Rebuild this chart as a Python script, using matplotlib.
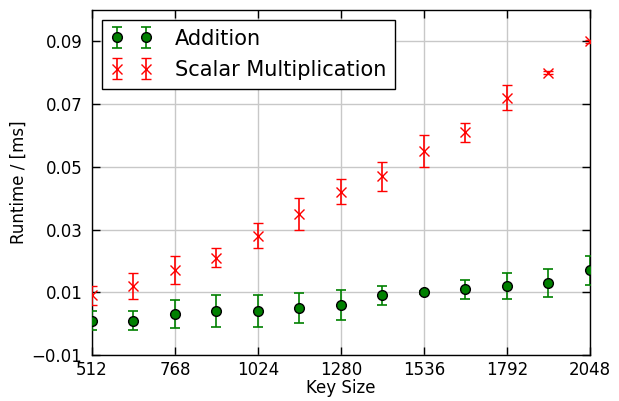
import matplotlib
matplotlib.use("Agg")
import matplotlib.pyplot as plt

# key sizes in bits
key_sizes = [512, 640, 768, 896, 1024, 1152, 1280, 1408, 1536, 1664, 1792, 1920, 2048]

# runtime in ms, mean and std
add_mean = [0.001, 0.001, 0.003, 0.004, 0.004, 0.005, 0.006, 0.009, 0.010, 0.011, 0.012, 0.013, 0.017]
add_err = [0.003, 0.003, 0.0045, 0.005, 0.005, 0.0048, 0.0048, 0.003, 0.0004, 0.003, 0.004, 0.0045, 0.0047]

mul_mean = [0.009, 0.012, 0.017, 0.021, 0.028, 0.035, 0.042, 0.047, 0.055, 0.061, 0.072, 0.080, 0.090]
mul_err = [0.003, 0.004, 0.0045, 0.003, 0.004, 0.005, 0.004, 0.0046, 0.005, 0.003, 0.004, 0.0004, 0.0004]

x_ticks = [512, 768, 1024, 1280, 1536, 1792, 2048]
y_ticks = [-0.01, 0.01, 0.03, 0.05, 0.07, 0.09]

fig = plt.figure(figsize=(6.19, 4.01), dpi=100)
ax = fig.add_axes([0.1486, 0.1147, 0.8045, 0.8604])

# Grid behind the data
ax.grid(True, color='#c8c8c8', linestyle='-', linewidth=1.0)
ax.set_axisbelow(True)

_ = ax.errorbar(key_sizes, add_mean, yerr=add_err, fmt='o', color='g',
                ecolor='g', mfc='g', mec='k', ms=7, capsize=3.5,
                elinewidth=1.2, capthick=1.2, label='Addition', zorder=3)
_ = ax.errorbar(key_sizes, mul_mean, yerr=mul_err, fmt='x', color='r',
                ecolor='r', ms=7, mew=1.0, capsize=3.5,
                elinewidth=1.2, capthick=1.2, label='Scalar Multiplication',
                zorder=3)

ax.set_xlim(512, 2048)
ax.set_ylim(-0.01, 0.1)
ax.set_xticks(x_ticks)
ax.set_xticklabels([str(t) for t in x_ticks])
ax.set_yticks(y_ticks)
ax.set_yticklabels(["\u22120.01"] + ["%.2f" % t for t in y_ticks[1:]])

# Old-style ticks: inward, all four sides
ax.tick_params(direction='in', length=6, width=1, top=True, right=True,
               labelsize=12)
ax.tick_params(axis='x', pad=4.5)
ax.tick_params(axis='y', pad=7)
for s in ax.spines.values():
    s.set_linewidth(1.0)

ax.set_xlabel('Key Size', fontsize=12, labelpad=0)
ax.set_ylabel('Runtime / [ms]', fontsize=12, labelpad=3)

leg = ax.legend(loc='upper left', numpoints=2, fontsize=15, fancybox=False,
                framealpha=1.0, edgecolor='k', borderaxespad=0.5,
                handlelength=2.0, handletextpad=1.1, borderpad=0.4,
                labelspacing=0.55)
leg.get_frame().set_linewidth(1.0)

plt.savefig('out.png', dpi=100)
plt.close()
